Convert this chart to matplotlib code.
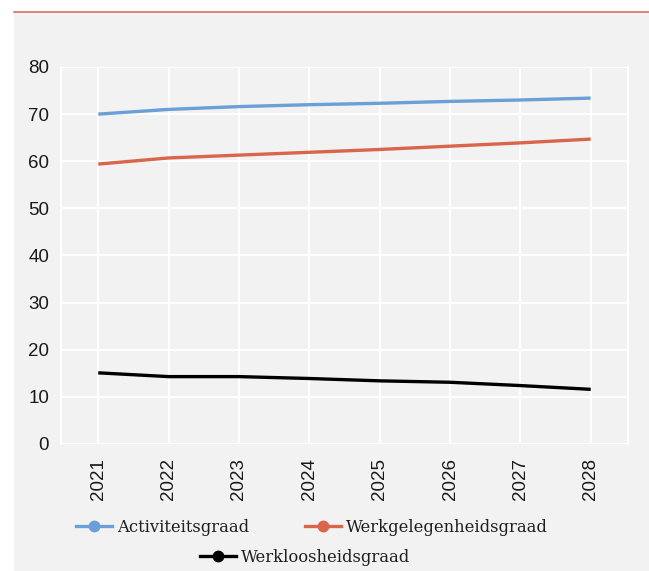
import matplotlib
matplotlib.use("Agg")
import matplotlib.pyplot as plt
from matplotlib.patches import Rectangle
from matplotlib.lines import Line2D

years = ["2021", "2022", "2023", "2024", "2025", "2026", "2027", "2028"]
activiteit = [70.0, 71.0, 71.6, 72.0, 72.3, 72.7, 73.0, 73.4]
werkgelegenheid = [59.4, 60.7, 61.3, 61.9, 62.5, 63.2, 63.9, 64.7]
werkloosheid = [15.1, 14.3, 14.3, 13.9, 13.4, 13.1, 12.4, 11.6]
y_ticks = [0, 10, 20, 30, 40, 50, 60, 70, 80]

BG = "#f1f2f1"
BLUE = "#6a9fd8"
RED = "#d9654b"
BLACK = "#000000"

W, H = 649, 571
fig = plt.figure(figsize=(W / 100, H / 100), dpi=100)
fig.patch.set_facecolor("white")
fig.add_artist(Rectangle((14 / W, 0), 1 - 14 / W, (H - 12) / H,
                         transform=fig.transFigure, facecolor=BG,
                         edgecolor="none", zorder=0))
fig.add_artist(Line2D([14 / W, 1], [(H - 12) / H] * 2, transform=fig.transFigure,
                      color="#d9735f", linewidth=1.2, zorder=1))

left, right, top, bottom = 61, 628, 67, 444
ax = fig.add_axes([left / W, (H - bottom) / H, (right - left) / W, (bottom - top) / H])
ax.set_facecolor(BG)

x = list(range(len(years)))
ax.plot(x, activiteit, color=BLUE, lw=2.4, solid_capstyle="butt", zorder=3)
ax.plot(x, werkgelegenheid, color=RED, lw=2.4, solid_capstyle="butt", zorder=3)
ax.plot(x, werkloosheid, color=BLACK, lw=2.4, solid_capstyle="butt", zorder=3)

ax.set_xlim(-0.53, len(years) - 0.47)
ax.set_ylim(0, 80)
ax.set_yticks(y_ticks)
ax.set_xticks(x)
tick_font = dict(fontsize=13.5, family="Liberation Sans", color="#1a1a1a")
ax.set_xticklabels(years, rotation=90, **tick_font)
ax.set_yticklabels([str(v) for v in y_ticks], **tick_font)
ax.tick_params(length=0)
ax.tick_params(axis="x", pad=10)
ax.tick_params(axis="y", pad=8.5)

for v in y_ticks:
    ax.axhline(v, color="white", lw=1.5, zorder=1)
for xi in x:
    ax.axvline(xi, color="white", lw=1.5, zorder=1)
for s in ax.spines.values():
    s.set_visible(False)
for side in ("left", "right"):
    ax.spines[side].set_visible(True)
    ax.spines[side].set_color("white")
    ax.spines[side].set_linewidth(1.5)

def handle(c):
    return Line2D([], [], color=c, lw=2.4, marker="o", markersize=7.5)

font = {"family": "DejaVu Serif", "size": 11.8}
common = dict(frameon=False, prop=font, handlelength=2.2, handletextpad=0.3,
              labelcolor="#1e1e1e", borderpad=0, borderaxespad=0)
leg1 = fig.legend([handle(BLUE), handle(RED)], ["Activiteitsgraad", "Werkgelegenheidsgraad"],
                  loc="center", bbox_to_anchor=(312 / W, (H - 527) / H), ncol=2,
                  columnspacing=3.4, **common)
leg2 = fig.legend([handle(BLACK)], ["Werkloosheidsgraad"],
                  loc="center", bbox_to_anchor=(305 / W, (H - 557) / H), ncol=1,
                  **common)

fig.savefig("out.png", dpi=100, facecolor=fig.get_facecolor())
